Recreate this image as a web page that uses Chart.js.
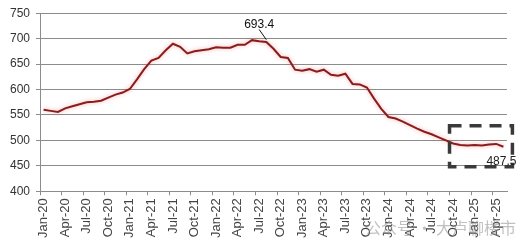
<!DOCTYPE html>
<html>
<head>
<meta charset="utf-8">
<script src="https://cdn.jsdelivr.net/npm/chart.js@4"></script>
<style>
html,body{margin:0;padding:0;background:#fff;}
#wrap{width:532px;height:249px;position:relative;}
</style>
</head>
<body>
<div id="wrap"><canvas id="c"></canvas></div>
<script>
const months = ["Jan","Feb","Mar","Apr","May","Jun","Jul","Aug","Sep","Oct","Nov","Dec"];
const years = ["20","21","22","23","24","25"];
const categories = [];
for (const y of years) for (const m of months) categories.push(m + "-" + y);
categories.length = 65; // Jan-20 .. May-25

const priceIndex = [
  560, 558, 556, 563, 567, 571, 575, 576, 578, 584, 590, 594,
  601, 620, 640, 657, 662, 677, 690, 684, 671, 675, 677, 679,
  683, 682, 682, 688, 688, 697, 695, 693.4, 680, 664, 662, 639,
  637, 640, 635, 639, 629, 627, 631, 611, 610, 604, 582, 562,
  546, 543, 537, 530, 523, 517, 512, 506, 500, 494, 491, 490,
  491, 490, 492, 493, 487.5
];

const yTicks = [400, 450, 500, 550, 600, 650, 700, 750];
const peakLabel = "693.4";
const lastLabel = "487.5";
const watermark = "公众号 · 大卢聊楼市";

const FONT = "'Liberation Sans', Arial, sans-serif";

const annotatePlugin = {
  id: 'annotate',
  beforeDatasetDraw(chart) {
    const ctx = chart.ctx;
    ctx.save();
    ctx.shadowColor = 'rgba(230,70,70,0.45)';
    ctx.shadowBlur = 4;
  },
  afterDatasetDraw(chart) {
    chart.ctx.restore();
  },
  afterDatasetsDraw(chart) {
    const ctx = chart.ctx;
    const xs = chart.scales.x, ys = chart.scales.y;
    const half = (xs.getPixelForValue(1) - xs.getPixelForValue(0)) / 2;
    ctx.save();
    // peak label + leader
    ctx.font = "12px " + FONT;
    ctx.fillStyle = '#111';
    ctx.textAlign = 'center';
    ctx.textBaseline = 'middle';
    ctx.fillText(peakLabel, xs.getPixelForValue(30), ys.getPixelForValue(728));
    ctx.strokeStyle = '#111';
    ctx.lineWidth = 1;
    ctx.beginPath();
    ctx.moveTo(xs.getPixelForValue(30), ys.getPixelForValue(718));
    ctx.lineTo(xs.getPixelForValue(31), ys.getPixelForValue(698));
    ctx.stroke();
    // dashed box
    const left = xs.getPixelForValue(57) - half;
    const right = xs.getPixelForValue(64) + 9;
    const top = ys.getPixelForValue(529);
    const bottom = ys.getPixelForValue(448);
    ctx.setLineDash([12, 8]);
    ctx.lineWidth = 3.5;
    ctx.strokeStyle = '#3a3a3a';
    ctx.strokeRect(left, top, right - left, bottom - top);
    ctx.setLineDash([]);
    // last label
    ctx.fillStyle = '#222';
    ctx.fillText(lastLabel, xs.getPixelForValue(64) - 2, ys.getPixelForValue(458));
    // watermark
    ctx.font = "16px 'Noto Sans CJK SC', sans-serif";
    ctx.fillStyle = 'rgba(140,140,140,0.55)';
    ctx.textAlign = 'left';
    ctx.fillText(watermark, xs.getPixelForValue(45) - 2, 228);
    ctx.restore();
  }
};

new Chart(document.getElementById('c'), {
  type: 'line',
  data: {
    labels: categories,
    datasets: [{
      data: priceIndex,
      borderColor: '#8a1c1c',
      borderWidth: 2,
      pointRadius: 0,
      tension: 0,
      fill: false
    }]
  },
  options: {
    responsive: true,
    maintainAspectRatio: false,
    animation: false,
    events: [],
    layout: { padding: { left: 4, right: 25, top: 11, bottom: 8 } },
    plugins: { legend: { display: false }, tooltip: { enabled: false } },
    scales: {
      x: {
        offset: true,
        grid: {
          offset: true,
          drawOnChartArea: false,
          drawTicks: true,
          tickLength: 4,
          color: (c) => (c.index % 3 === 0 ? '#8c8c8c' : 'rgba(0,0,0,0)')
        },
        border: { display: true, color: '#8c8c8c' },
        ticks: {
          autoSkip: false,
          maxRotation: 90,
          minRotation: 90,
          padding: 3,
          color: '#444',
          font: { family: FONT, size: 13 },
          callback: (v, i) => (i % 3 === 0 ? categories[i] : '')
        }
      },
      y: {
        min: 400,
        max: 750,
        afterBuildTicks: (s) => { s.ticks = yTicks.map(v => ({ value: v })); },
        grid: { color: '#8c8c8c', tickLength: 4 },
        border: { display: true, color: '#8c8c8c' },
        ticks: {
          padding: 6,
          color: '#333',
          font: { family: FONT, size: 12 }
        }
      }
    }
  },
  plugins: [annotatePlugin]
});
</script>
</body>
</html>
